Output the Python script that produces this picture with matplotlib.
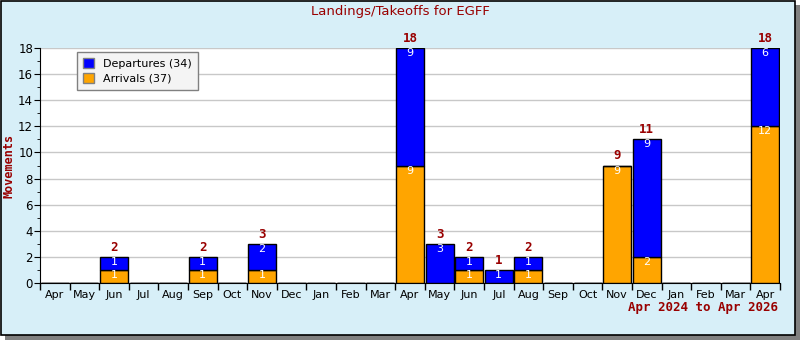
import matplotlib.pyplot as plt
from matplotlib.patches import Rectangle
import numpy as np

months = ['Apr', 'May', 'Jun', 'Jul', 'Aug', 'Sep', 'Oct', 'Nov', 'Dec', 'Jan', 'Feb', 'Mar',
          'Apr', 'May', 'Jun', 'Jul', 'Aug', 'Sep', 'Oct', 'Nov', 'Dec', 'Jan', 'Feb', 'Mar', 'Apr']
arrivals = [0, 0, 1, 0, 0, 1, 0, 1, 0, 0, 0, 0, 9, 0, 1, 0, 1, 0, 0, 9, 2, 0, 0, 0, 12]
departures = [0, 0, 1, 0, 0, 1, 0, 2, 0, 0, 0, 0, 9, 3, 1, 1, 1, 0, 0, 0, 9, 0, 0, 0, 6]

darkred = '#990000'
bg = '#d7eff8'

fig = plt.figure(figsize=(8, 3.4), dpi=100)
fig.patch.set_facecolor('white')
# shadow and framed background
fig.patches.append(Rectangle((5/800, 0), 795/800, 335/340, transform=fig.transFigure,
                             facecolor='#808080', edgecolor='none', zorder=-3))
fig.patches.append(Rectangle((1/800, 5/340), 794/800, 334/340, transform=fig.transFigure,
                             facecolor=bg, edgecolor='black', lw=1.2, zorder=-2))

ax = fig.add_axes([40/800, 57/340, 740/800, 235/340])
x = np.arange(len(months))
arr = np.array(arrivals)
dep = np.array(departures)
w = 0.94
ax.bar(x, arr, width=w, color='orange', edgecolor='black', lw=1, label='Arrivals (%d)' % arr.sum(), zorder=3)
ax.bar(x, dep, width=w, bottom=arr, color='blue', edgecolor='black', lw=1, label='Departures (%d)' % dep.sum(), zorder=3)

for i in x:
    if arr[i] > 0:
        ax.text(i, arr[i], str(arr[i]), ha='center', va='top', color='white', fontsize=8, zorder=4)
    if dep[i] > 0:
        ax.text(i, arr[i] + dep[i], str(dep[i]), ha='center', va='top', color='white', fontsize=8, zorder=4)
    tot = arr[i] + dep[i]
    if tot > 0:
        ax.text(i, tot + 0.25, str(tot), ha='center', va='bottom', color=darkred, fontsize=9,
                fontweight='bold', family='DejaVu Sans Mono', clip_on=False, zorder=4)

ax.set_xlim(-0.5, len(months) - 0.5)
ax.set_ylim(0, 18)
ax.set_yticks(np.arange(0, 19, 2))
ax.set_yticks(np.arange(1, 18, 2), minor=True)
ax.set_xticks(x)
ax.set_xticklabels(months, fontsize=8)
ax.set_xticks(np.arange(-0.5, len(months), 1), minor=True)
ax.tick_params(axis='x', which='major', length=0, pad=5)
ax.tick_params(axis='x', which='minor', length=5, width=1)
ax.tick_params(axis='y', which='major', length=4, labelsize=8.5, pad=1)
ax.tick_params(axis='y', which='minor', length=2)
ax.grid(axis='y', color='#c8c8c8', lw=1, zorder=0)
for s in ['top', 'right']:
    ax.spines[s].set_visible(False)
ax.set_facecolor('white')
ax.set_ylabel('Movements', color=darkred, fontsize=8.5, fontweight='bold', family='DejaVu Sans Mono',
              va='center')
ax.yaxis.set_label_coords(-31/740, 0.5)

h, l = ax.get_legend_handles_labels()
leg = ax.legend(h[::-1], l[::-1], loc='upper left', bbox_to_anchor=(31/740, 1.005), fontsize=8,
                fancybox=False, framealpha=1, facecolor='#f4f4f4', edgecolor='#808080',
                handlelength=1.0, handleheight=1.0, borderpad=0.55, labelspacing=0.35)
leg.get_frame().set_linewidth(1)
for p in leg.get_patches():
    p.set_edgecolor('#808080')

fig.text(400/800, 1 - 12/340, 'Landings/Takeoffs for EGFF', ha='center', va='center', color=darkred, fontsize=9.5)
fig.text(778/800, 1 - 307/340, 'Apr 2024 to Apr 2026', ha='right', va='center', color=darkred,
         fontsize=9, fontweight='bold', family='DejaVu Sans Mono')

fig.savefig('out.png', dpi=100, facecolor=fig.get_facecolor())
